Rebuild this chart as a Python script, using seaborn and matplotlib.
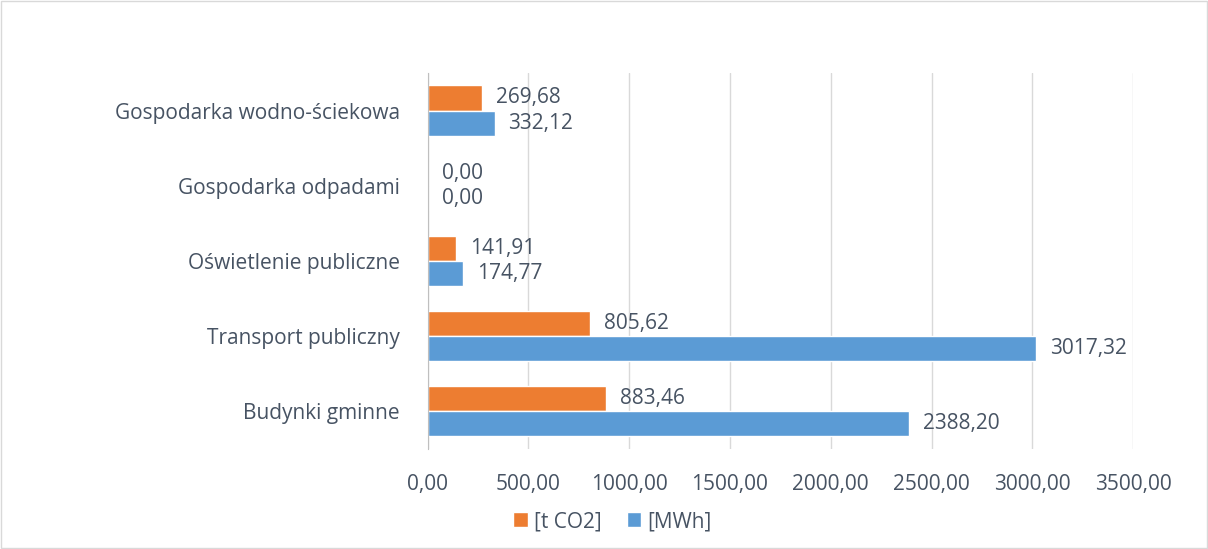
import pandas as pd
import matplotlib.pyplot as plt
import seaborn as sns

sns.set_style('white')
plt.rcParams['font.family'] = ['Open Sans', 'DejaVu Sans']

# Data
categories = ['Gospodarka wodno-ściekowa', 'Gospodarka odpadami', 'Oświetlenie publiczne',
              'Transport publiczny', 'Budynki gminne']
series = ['[t CO2]', '[MWh]']
t_co2 = [269.68, 0.00, 141.91, 805.62, 883.46]
mwh = [332.12, 0.00, 174.77, 3017.32, 2388.20]
xticks = [0, 500, 1000, 1500, 2000, 2500, 3000, 3500]

df = pd.DataFrame({
    'Kategoria': categories * 2,
    'Seria': [series[0]] * 5 + [series[1]] * 5,
    'Wartosc': t_co2 + mwh,
})

text_color = '#475363'
fs = 15
fig = plt.figure(figsize=(12.08, 5.49), dpi=100)
ax = fig.add_axes([0.354, 0.183, 0.584, 0.684])

sns.barplot(data=df, y='Kategoria', x='Wartosc', hue='Seria', order=categories,
            hue_order=series, palette=['#ED7D31', '#5B9BD5'], orient='h',
            width=0.67, saturation=1, ax=ax, legend=True)

for cont in ax.containers:
    ax.bar_label(cont, labels=[f'{v:.2f}'.replace('.', ',') for v in cont.datavalues],
                 padding=10, fontsize=fs, color=text_color)

ax.set_xlim(0, 3500)
ax.set_xticks(xticks)
ax.set_xticklabels([f'{v:.2f}'.replace('.', ',') for v in xticks])
ax.tick_params(axis='both', length=0, labelsize=fs, colors=text_color)
ax.tick_params(axis='x', pad=18)
ax.tick_params(axis='y', pad=20)
ax.set_xlabel('')
ax.set_ylabel('')
ax.xaxis.grid(True, color='#D9D9D9', linewidth=1)
ax.set_axisbelow(True)
for s in ['top', 'right', 'bottom']:
    ax.spines[s].set_visible(False)
ax.spines['left'].set_color('#BFBFBF')

handles, labels = ax.get_legend_handles_labels()
ax.get_legend().remove()
fig.legend(handles, labels, loc='center', bbox_to_anchor=(0.507, 0.05), ncol=2,
           frameon=False, fontsize=fs, handlelength=0.7, handleheight=0.7,
           handletextpad=0.3, columnspacing=1.2, labelcolor=text_color)

# thin frame around the chart
fig.patches.append(plt.Rectangle((0.001, 0.001), 0.998, 0.997, transform=fig.transFigure,
                                 fill=False, edgecolor='#D9D9D9', linewidth=1))

fig.savefig('out.png', dpi=100)
